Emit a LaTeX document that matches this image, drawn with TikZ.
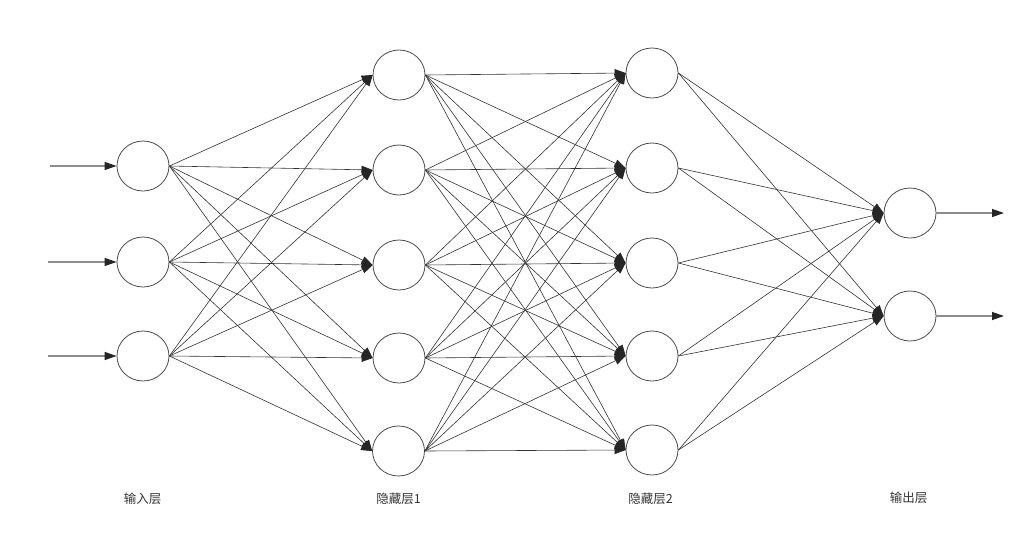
\documentclass[tikz,border=0pt]{standalone}
\usepackage{fontspec}
\newfontfamily\cjk{Noto Sans CJK SC}
\usetikzlibrary{arrows.meta,shapes.geometric}
\begin{document}
\begin{tikzpicture}[x=1pt,y=-1pt,
  neuron/.style={draw=black!70, line width=0.8pt, ellipse, minimum width=52pt, minimum height=50pt, inner sep=0pt},
  link/.style={draw=black!80, line width=0.6pt, -{Triangle[length=11pt,width=8pt,color=black!85]}},
  ioarrow/.style={draw=black!45, line width=1.3pt, -{Triangle[length=12pt,width=8pt,color=black!85]}},
  layerlabel/.style={font=\cjk\fontsize{12.5}{15}\selectfont, text=black!80, inner sep=0pt}]
\useasboundingbox (0,0) rectangle (1036,554);
% input layer
\node[neuron] (i1) at (143,166) {};
\node[neuron] (i2) at (143,262) {};
\node[neuron] (i3) at (143,356) {};
% hidden layer 1
\node[neuron] (h1) at (399,75) {};
\node[neuron] (h2) at (399,170) {};
\node[neuron] (h3) at (399,265) {};
\node[neuron] (h4) at (399,358) {};
\node[neuron] (h5) at (398.5,451) {};
% hidden layer 2
\node[neuron] (g1) at (652,73) {};
\node[neuron] (g2) at (652,168) {};
\node[neuron] (g3) at (652,263) {};
\node[neuron] (g4) at (652,356) {};
\node[neuron] (g5) at (652,450) {};
% output layer
\node[neuron] (o1) at (910,213) {};
\node[neuron] (o2) at (910,316) {};
% input arrows
\coordinate (s1) at (50,166);
\coordinate (s2) at (48,262);
\coordinate (s3) at (48,356);
\foreach \k in {1,2,3} \draw[ioarrow] (s\k) -- (i\k.west);
% output arrows
\coordinate (t1) at (1004,213);
\coordinate (t2) at (1004,316);
\foreach \k in {1,2} \draw[ioarrow] (o\k.east) -- (t\k);
% connections
\foreach \a in {1,2,3} \foreach \b in {1,...,5} \draw[link] (i\a.east) -- (h\b.west);
\foreach \a in {1,...,5} \foreach \b in {1,...,5} \draw[link] (h\a.east) -- (g\b.west);
\foreach \a in {1,...,5} \foreach \b in {1,2} \draw[link] (g\a.east) -- (o\b.west);
% labels
\node[layerlabel] (l1) at (142.5,499) {输入层};
\node[layerlabel] (l2) at (398.5,499) {隐藏层1};
\node[layerlabel] (l3) at (650.5,499) {隐藏层2};
\node[layerlabel] (l4) at (908.5,498) {输出层};
\end{tikzpicture}
\end{document}
